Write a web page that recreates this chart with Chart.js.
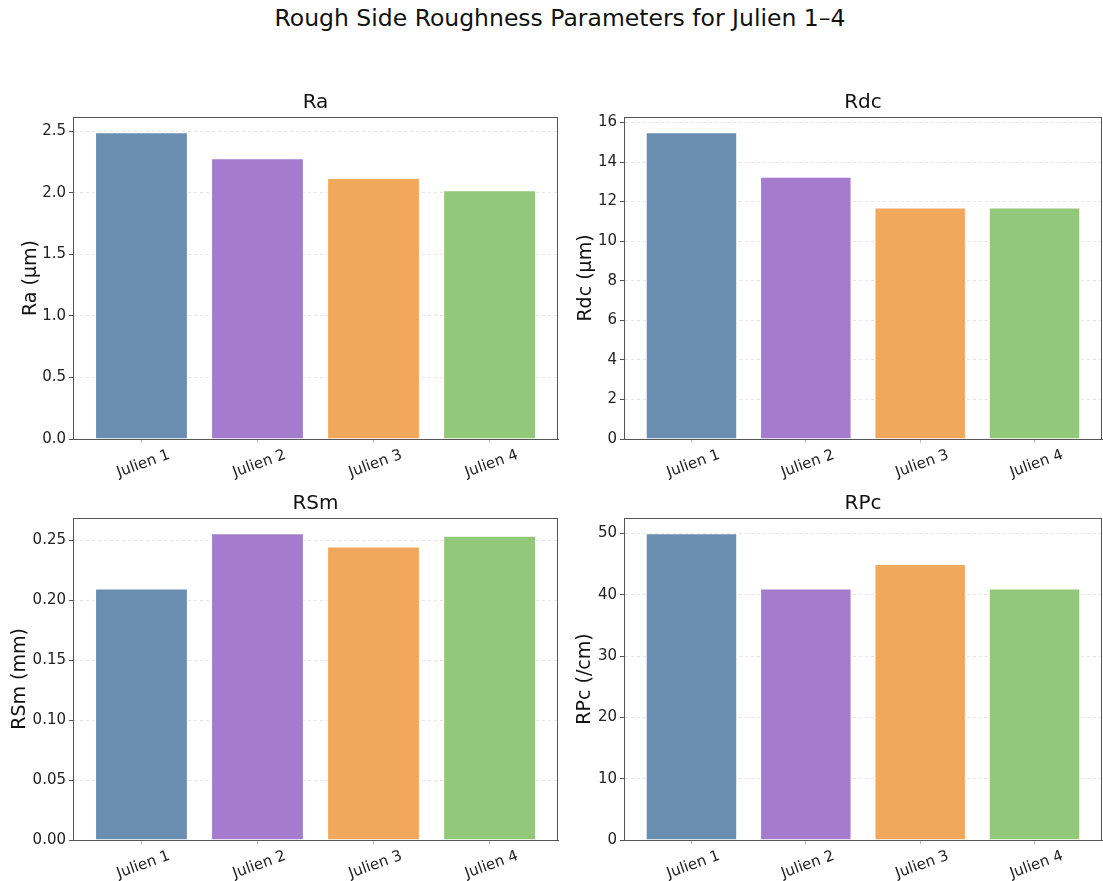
<!DOCTYPE html>
<html>
<head>
<meta charset="utf-8">
<script src="https://cdn.jsdelivr.net/npm/chart.js@4.4.1/dist/chart.umd.min.js"></script>
<style>
  html, body { margin: 0; padding: 0; background: #fff; }
  body { width: 1103px; height: 881px; position: relative; overflow: hidden; font-family: "DejaVu Sans", sans-serif; }
  #suptitle { position: absolute; left: 0; width: 1120px; top: 4px; text-align: center; font-size: 23.5px; color: #111; }
  .panel { position: absolute; }
</style>
</head>
<body>
<div id="suptitle">Rough Side Roughness Parameters for Julien 1–4</div>
<div class="panel" style="left:0px;top:91px;width:566px;height:409px;"><canvas id="chart-ra"></canvas></div>
<div class="panel" style="left:565px;top:91px;width:538px;height:409px;"><canvas id="chart-rdc"></canvas></div>
<div class="panel" style="left:0px;top:492px;width:566px;height:389px;"><canvas id="chart-rsm"></canvas></div>
<div class="panel" style="left:565px;top:492px;width:538px;height:389px;"><canvas id="chart-rpc"></canvas></div>
<script>
(function() {
  "use strict";

  // data
  const categories = ["Julien 1", "Julien 2", "Julien 3", "Julien 4"];
  const raValues = [2.49, 2.28, 2.12, 2.02];
  const rdcValues = [15.5, 13.25, 11.7, 11.7];
  const rsmValues = [0.210, 0.256, 0.245, 0.254];
  const rpcValues = [50, 41, 45, 41];

  const barColors = ["#698eaf", "#a57bcd", "#f1a75c", "#91c879"];
  const FONT = "'DejaVu Sans', sans-serif";
  const AXIS_COLOR = "#555";

  // outline the whole plot area like matplotlib spines
  const framePlugin = {
    id: "frame",
    afterDraw(chart) {
      const a = chart.chartArea;
      const ctx = chart.ctx;
      ctx.save();
      ctx.strokeStyle = AXIS_COLOR;
      ctx.lineWidth = 1;
      ctx.setLineDash([]);
      ctx.strokeRect(Math.round(a.left) + 0.5, Math.round(a.top) + 0.5,
        Math.round(a.right - a.left) - 1, Math.round(a.bottom - a.top));
      ctx.restore();
    },
  };

  function makePanel(id, title, yLabel, values, step, decimals, cfg) {
    const el = document.getElementById(id);
    const yMax = Math.max(...values) * 1.05;
    new Chart(el.getContext("2d"), {
      type: "bar",
      data: {
        datasets: [{
          data: values.map((v, i) => ({x: i, y: v})),
          backgroundColor: barColors,
          borderColor: "rgba(255,255,255,0.45)",
          borderWidth: 1,
          categoryPercentage: 0.8,
          barPercentage: 1.0,
        }],
      },
      options: {
        responsive: true,
        maintainAspectRatio: false,
        animation: false,
        layout: {padding: {top: 0, right: cfg.padRight, bottom: 0, left: 0}},
        plugins: {
          legend: {display: false},
          tooltip: {enabled: false},
          title: {
            display: true,
            text: title,
            fullSize: false,
            color: "#111",
            font: {family: FONT, size: 20, weight: "normal"},
            padding: {top: 0, bottom: 2},
          },
        },
        scales: {
          x: {
            type: "linear",
            offset: false,
            min: -0.59,
            max: categories.length - 1 + 0.59,
            afterBuildTicks: (s) => {
              s.ticks = categories.map((c, i) => ({value: i}));
            },
            afterFit: (s) => {
              s.height = cfg.xHeight;
            },
            grid: {
              display: true,
              drawOnChartArea: false,
              drawTicks: true,
              tickLength: 4,
              tickColor: "#bbb",
              offset: false,
            },
            border: {display: true, color: AXIS_COLOR},
            ticks: {
              autoSkip: false,
              minRotation: 20,
              maxRotation: 20,
              labelOffset: 28,
              padding: 3,
              color: "#222",
              font: {family: FONT, size: 15},
              callback: (v) => categories[v],
            },
          },
          y: {
            min: 0,
            max: yMax,
            afterBuildTicks: (s) => {
              const t = [];
              for (let k = 0; k * step <= yMax + 1e-9; k++) t.push({value: k * step});
              s.ticks = t;
            },
            afterFit: (s) => {
              s.width = cfg.yWidth;
            },
            grid: {
              color: "rgba(0,0,0,0.1)",
              tickLength: 4,
              tickColor: AXIS_COLOR,
              tickBorderDash: [],
            },
            border: {display: true, color: AXIS_COLOR, dash: [3, 3]},
            ticks: {
              padding: 3,
              color: "#222",
              font: {family: FONT, size: 15},
              callback: (v) => Number(v).toFixed(decimals),
            },
            title: {
              display: true,
              text: yLabel,
              color: "#111",
              font: {family: FONT, size: 19},
              padding: {top: cfg.labelPad, bottom: 0},
            },
          },
        },
      },
      plugins: [framePlugin],
    });
  }

  document.addEventListener("DOMContentLoaded", () => {
    makePanel("chart-ra", "Ra", "Ra (µm)", raValues, 0.5, 1,
      {yWidth: 73, padRight: 8, xHeight: 61, labelPad: 20});
    makePanel("chart-rdc", "Rdc", "Rdc (µm)", rdcValues, 2, 0,
      {yWidth: 59, padRight: 1, xHeight: 61, labelPad: 10});
    makePanel("chart-rsm", "RSm", "RSm (mm)", rsmValues, 0.05, 2,
      {yWidth: 73, padRight: 8, xHeight: 41, labelPad: 9});
    makePanel("chart-rpc", "RPc", "RPc (/cm)", rpcValues, 10, 0,
      {yWidth: 59, padRight: 1, xHeight: 41, labelPad: 9});
  });
})();
</script>
</body>
</html>
